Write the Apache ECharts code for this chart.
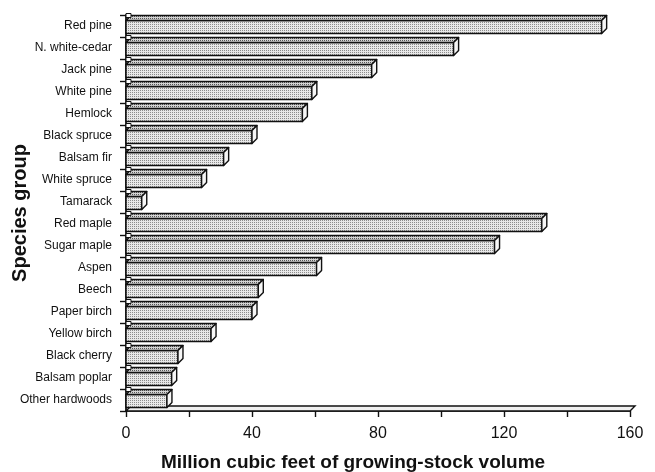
<!DOCTYPE html>
<html><head><meta charset="utf-8">
<script src="https://cdn.jsdelivr.net/npm/echarts@6/dist/echarts.min.js"></script>
<style>html,body{margin:0;padding:0;background:#fff}#c{width:655px;height:472px}</style>
</head><body><div id="c"></div>
<script>
var categories = ["Red pine","N. white-cedar","Jack pine","White pine","Hemlock","Black spruce","Balsam fir","White spruce","Tamarack","Red maple","Sugar maple","Aspen","Beech","Paper birch","Yellow birch","Black cherry","Balsam poplar","Other hardwoods"];
var volumes = [151, 104, 78, 59, 56, 40, 31, 24, 5, 132, 117, 60.5, 42, 40, 27, 16.5, 14.5, 13];
var xTicks = [0, 40, 80, 120, 160];

function makePattern(bg, dot) {
  var c = document.createElement('canvas');
  c.width = 2; c.height = 2;
  var g = c.getContext('2d');
  g.fillStyle = bg; g.fillRect(0, 0, 2, 2);
  g.fillStyle = dot; g.fillRect(0, 0, 1, 1);
  return {image: c, repeat: 'repeat'};
}
var frontFill = makePattern('#e8e8e8', '#8c8c8c');
var topFill = makePattern('#d4d4d4', '#555555');

var D = 5, H = 13;
function renderBar(params, api) {
  var idx = api.value(0), v = api.value(1);
  var p0 = api.coord([0, idx]);
  var p1 = api.coord([v, idx]);
  var x0 = p0[0], x1 = p1[0];
  var yT = p0[1] - H / 2 + 1, yB = p0[1] + H / 2 + 1;
  var ls = {stroke: '#111', lineWidth: 1.4, lineJoin: 'round'};
  return {type: 'group', children: [
    {type: 'rect', shape: {x: x0, y: yT, width: x1 - x0, height: yB - yT}, style: Object.assign({fill: frontFill}, ls)},
    {type: 'polygon', shape: {points: [[x0, yT], [x1, yT], [x1 + D, yT - D], [x0 + D, yT - D]]}, style: Object.assign({fill: topFill}, ls)},
    {type: 'polygon', shape: {points: [[x1, yT], [x1 + D, yT - D], [x1 + D, yB - D], [x1, yB]]}, style: Object.assign({fill: '#f6f6f6'}, ls)},
    {type: 'rect', shape: {x: x0, y: yT - D - 2, width: D, height: 4}, style: {fill: '#fff', stroke: '#111', lineWidth: 1}}
  ]};
}
function renderFloor(params, api) {
  var p0 = api.coord([0, categories.length - 1]);
  var p1 = api.coord([api.value(1), categories.length - 1]);
  var half = api.size([0, 1])[1] / 2;
  var y = p0[1] + half;
  return {type: 'polygon', shape: {points: [[p0[0], y], [p1[0], y], [p1[0] + D, y - D], [p0[0] + D, y - D]]},
    style: {fill: '#f0f0f0', stroke: '#111', lineWidth: 1.4}};
}

var chart = echarts.init(document.getElementById('c'));
chart.setOption({
  animation: false,
  grid: {left: 126, right: 25, top: 15, height: 396, containLabel: false, outerBoundsMode: 'none'},
  xAxis: {
    type: 'value', min: xTicks[0], max: xTicks[xTicks.length - 1], interval: 40,
    name: 'Million cubic feet of growing-stock volume', nameLocation: 'middle', nameGap: 42, nameMoveOverlap: false,
    nameTextStyle: {fontFamily: 'Liberation Sans', fontWeight: 'bold', fontSize: 19, color: '#111', padding: [0, 50, 0, 0]},
    axisLine: {show: true, lineStyle: {color: '#111', width: 1.6}},
    axisTick: {show: true, length: 6, lineStyle: {color: '#111', width: 1.4}},
    minorTick: {show: true, splitNumber: 2, length: 6, lineStyle: {color: '#111', width: 1.4}},
    axisLabel: {fontFamily: 'Liberation Sans', fontSize: 16, color: '#111', margin: 15},
    splitLine: {show: false}
  },
  yAxis: {
    type: 'category', data: categories, inverse: true,
    name: 'Species group', nameLocation: 'middle', nameGap: 96, nameMoveOverlap: false,
    nameTextStyle: {fontFamily: 'Liberation Sans', fontWeight: 'bold', fontSize: 20, color: '#111'},
    axisLine: {show: true, lineStyle: {color: '#111', width: 1.8}},
    axisTick: {show: true, length: 6, lineStyle: {color: '#111', width: 1.4}},
    axisLabel: {fontFamily: 'Liberation Sans', fontSize: 12, color: '#111', margin: 14}
  },
  series: [
    {type: 'custom', renderItem: renderFloor, data: [[categories.length - 1, xTicks[xTicks.length - 1]]], encode: {x: 1, y: 0}, z: 1},
    {type: 'custom', renderItem: renderBar, data: volumes.map(function (v, i) { return [i, v]; }), encode: {x: 1, y: 0}, z: 2}
  ]
});
</script></body></html>
